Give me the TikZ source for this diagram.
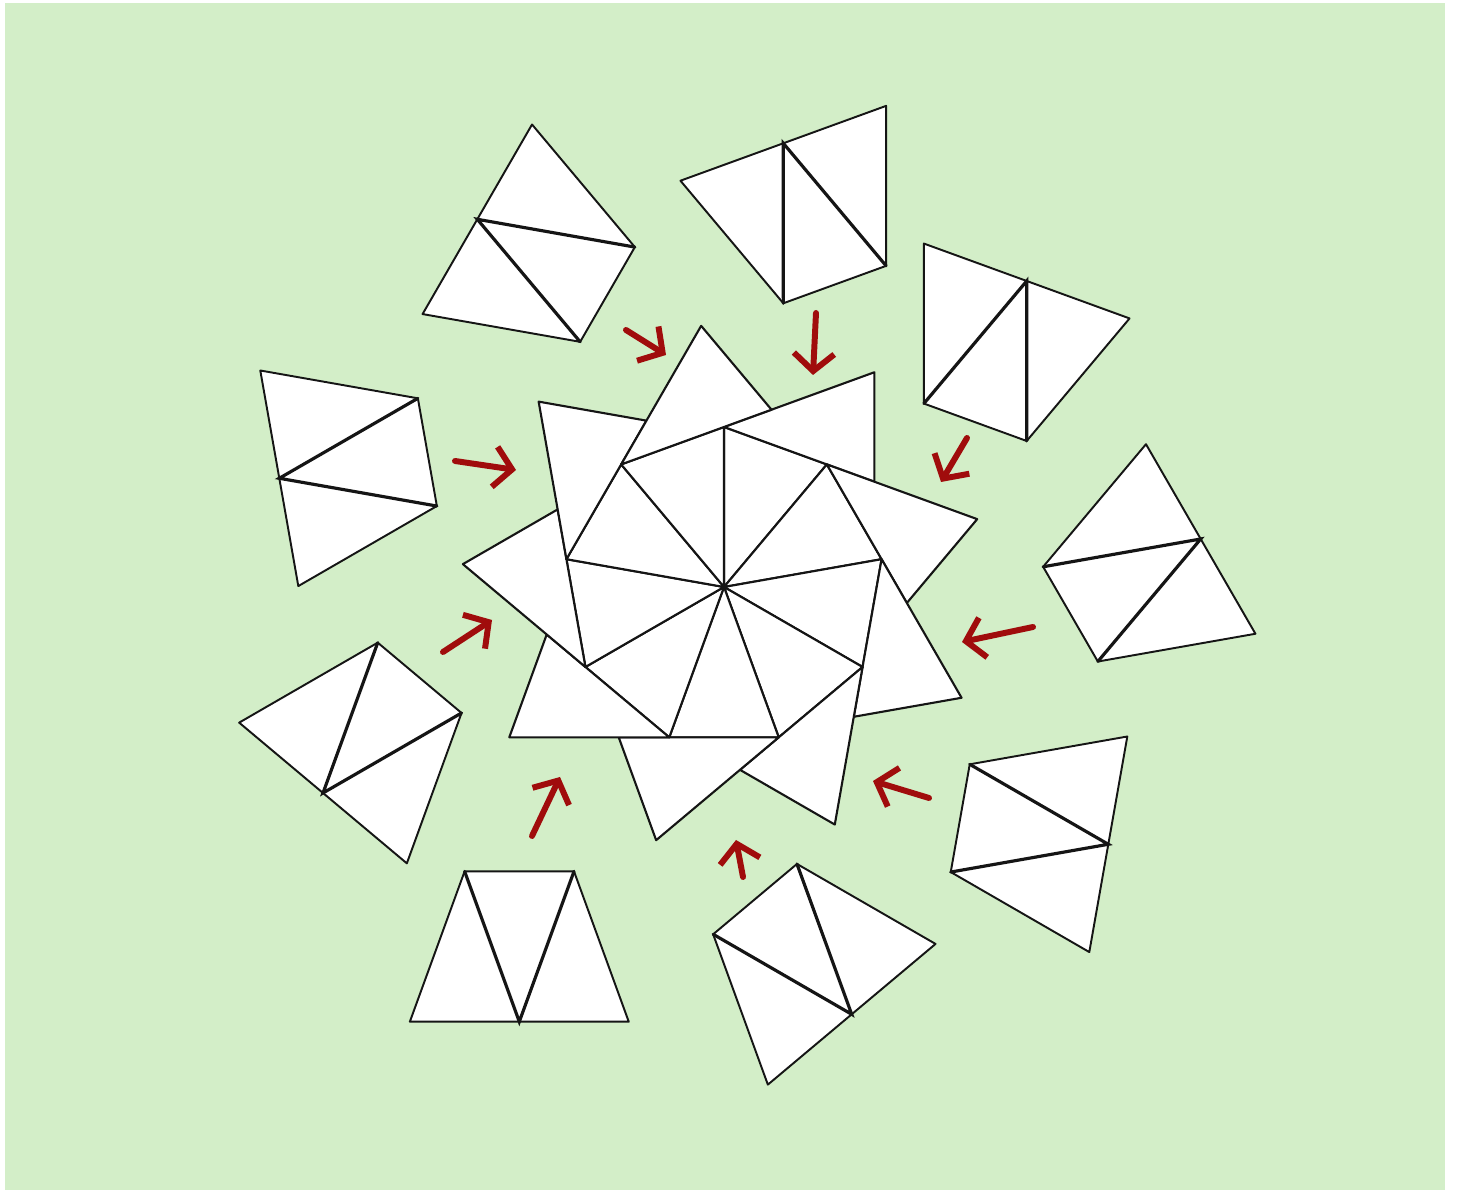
\documentclass[tikz,border=0pt]{standalone}
\usepackage{tikz}
\usetikzlibrary{arrows.meta}
\definecolor{mgbg}{HTML}{D3EEC8}
\definecolor{mgred}{HTML}{A00C0C}
\definecolor{mgline}{HTML}{151515}

\begin{document}
\begin{tikzpicture}[
  x=0.02cm, y=0.02cm,
  hub/.style={draw=mgline, fill=white, line width=1.2pt, line join=round},
  tile/.style={draw=mgline, fill=white, line width=1.1pt, line join=round},
  seam/.style={draw=mgline, line width=1.8pt, line cap=round},
  push/.style={draw=mgred, line width=3.4pt, line cap=round, line join=round, -{Straight Barb[length=10pt, width=23pt]}}
]
\useasboundingbox (0,0) rectangle (1457,1192);
\fill[white] (0,0) rectangle (1457,1192);
\fill[mgbg] (5,2) rectangle (1445,1189);

\begin{scope}[shift={(724,605)}]
\foreach \k in {0,...,8} {
  \pgfmathsetmacro{\ang}{90-40*\k}
  \filldraw[hub] (0,0) -- (\ang:160) -- (\ang-40:160) -- cycle;
  \filldraw[hub] (\ang:160) -- +(\ang-70:160) -- +(\ang-110:160) -- cycle;
}
\end{scope}

\foreach \px/\py/\rot in {519.3/170.3/0, 851.7/177.7/40, 1108.3/347.7/80, 1200.7/653/120, 1026.7/911/160, 783.3/1048.7/200, 477.3/972.7/240, 279.3/713.7/280, 323/399/320} {
  \begin{scope}[shift={(\px,\py)}, rotate=\rot]
    \filldraw[tile] (-109.45,0) -- (109.45,0) -- (54.7,150.35) -- (-54.7,150.35) -- cycle;
    \draw[seam] (-54.7,150.35) -- (0,0) -- (54.7,150.35);
  \end{scope}
}

\foreach \ax/\ay/\bx/\by in {626/862/666/837, 816/879/813/817, 967/754/941/710, 1033/565/962/550, 929/394/873/411, 743/315/736/352, 532/356/560/415, 443/540/492/572, 455/731/516/722}
  \draw[push] (\ax,\ay) -- (\bx,\by);
\end{tikzpicture}
\end{document}
